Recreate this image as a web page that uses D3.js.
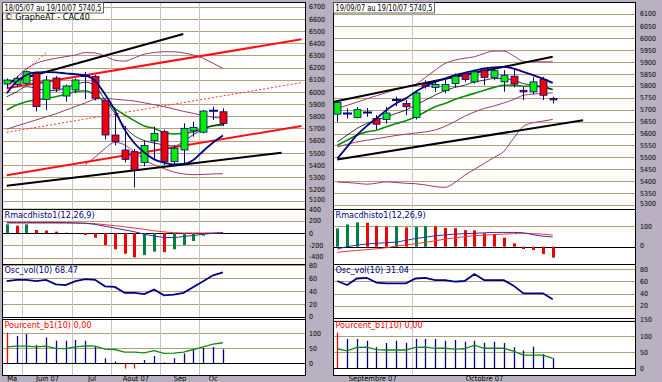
<!DOCTYPE html>
<html><head><meta charset="utf-8">
<script src="https://cdn.jsdelivr.net/npm/d3@7"></script>
<style>body{margin:0;background:#b9b1c1;overflow:hidden}svg{display:block}</style>
</head><body><svg id="c" width="662" height="382"></svg>
<script>
// ---------------- DATA ----------------
const weeksL = ["18/05","25/05","01/06","08/06","15/06","22/06","29/06","06/07","13/07","20/07","27/07","03/08","10/08","17/08","24/08","31/08","07/09","14/09","21/09","28/09","05/10","12/10","19/10"];
const openL  = [6065,6060,6071,6153,5939,6114,5966,6016,6130,6126,5928,5646,5523,5509,5421,5599,5673,5427,5523,5680,5669,5845,5837];
const highL  = [6110,6130,6175,6165,6130,6130,6060,6110,6165,6140,5940,5820,5720,5530,5600,5714,5690,5560,5742,5755,5850,5879,5865];
const lowL   = [6030,6040,6060,5840,5850,6000,5920,5990,5940,5930,5610,5560,5420,5216,5390,5441,5400,5390,5413,5632,5660,5769,5720];
const closeL = [6098,6110,6166,5879,6098,6024,6049,6098,6130,5948,5646,5591,5446,5359,5559,5659,5427,5537,5701,5709,5843,5845,5740.5];
const maNavyL  = [5988,6084,6139,6160,6163,6160,6152,6145,6135,6090,5980,5850,5690,5578,5502,5446,5419,5404,5408,5441,5515,5584,5642];
const maBlackL = [5960,6000,6043,6030,6012,6010,6035,6060,6080,6050,5934,5826,5714,5640,5600,5580,5565,5555,5590,5650,5690,5725,5735];
const maGreenL = [5851,5892,5920,5934,5948,5961,5980,6002,6010,5975,5920,5865,5810,5764,5720,5701,5666,5654,5660,5673,5701,5720,5726];
const bandUpL  = [6060,6120,6190,6235,6260,6276,6290,6303,6323,6320,6294,6261,6253,6280,6310,6323,6330,6330,6320,6303,6276,6235,6194];
const bandMidL = [5693,5720,5745,5770,5795,5820,5850,5880,5910,5940,5947,5940,5933,5925,5910,5895,5879,5860,5840,5824,5805,5792,5783];
const bandLoL  = [null,null,null,null,null,null,null,null,5405,5465,5535,5585,5565,5505,5445,5400,5370,5342,5326,5320,5322,5326,5328];
const trendL = [
  {kind:"black", pts:[[0,6076],[17.97,6476]]},
  {kind:"black", pts:[[0,5230],[27.97,5501]]},
  {kind:"red",   pts:[[0,6030],[30,6432]]},
  {kind:"red",   pts:[[0,5316],[30,5720]]},
  {kind:"dot",   pts:[[0,5668],[30,6076]]},
  {kind:"dot",   pts:[[0.17,6050],[4.07,6326]]}
];
const macdHistL = [140,119,140,49,40,22,5,-5,-32,-76,-194,-264,-335,-394,-356,-302,-310,-264,-194,-130,-43,-5,2];
const macdLineL = [172,172,172,172,172,170,168,165,158,140,110,80,50,20,-20,-50,-70,-76,-55,-40,-20,-5,5];
const macdSigL  = [160,160,160,160,160,160,160,158,157,150,135,118,100,80,60,35,18,5,0,0,0,2,5];
const oscL = [55,57,57,55,57,50,49,55,58,57,47,46,37,37,35,42,33,34,37,46,55,64,68.47];
const pctL = [102,91,98,61,86,75,75,78,75,56,17,6,-17,-17,11,24,3,17,33,44,52,54,47];
const priceTicksL = d3.range(5100, 6701, 100);
const macdTicksL = [400,200,0,-200,-400];
const oscTicks = [80,60,40,20,0];
const pctTicksL = [100,50,0];
const monthStartL = [2,7,11,16,20];
const monthNamesL = ["Ma","Juin 07","Jul","Aout 07","Sep","Oc"];

const daysR = ["19/09","20/09","21/09","24/09","25/09","26/09","27/09","28/09","01/10","02/10","03/10","04/10","05/10","08/10","09/10","10/10","11/10","12/10","15/10","16/10","17/10","18/10","19/10"];
const openR  = [5681,5684,5667,5688,5663,5659,5740,5726,5667,5809,5793,5779,5809,5849,5816,5863,5835,5816,5840,5781,5774,5826,5747];
const highR  = [5740,5705,5711,5707,5677,5711,5754,5740,5779,5823,5816,5830,5851,5858,5868,5872,5872,5865,5872,5795,5837,5837,5754];
const lowR   = [5649,5663,5663,5670,5617,5642,5714,5677,5659,5788,5774,5768,5793,5816,5809,5802,5823,5775,5793,5740,5765,5740,5726];
const closeR = [5730,5684,5700,5688,5639,5686,5740,5712,5770,5798,5805,5805,5840,5826,5858,5835,5863,5844,5807,5774,5816,5760,5740.5];
const maNavyR  = [5495,5544,5593,5631,5663,5698,5726,5747,5775,5798,5816,5830,5844,5854,5863,5872,5877,5879,5872,5858,5844,5830,5812];
const maBlackR = [5565,5593,5621,5642,5656,5670,5684,5698,5719,5740,5761,5779,5793,5802,5816,5823,5830,5830,5823,5809,5802,5795,5784];
const maGreenR = [5551,5572,5593,5607,5614,5628,5642,5653,5670,5691,5712,5726,5742,5756,5768,5781,5793,5802,5802,5798,5798,5795,5784];
const bandUpR  = [5705,5718,5731,5745,5758,5771,5784,5795,5805,5835,5865,5893,5907,5915,5921,5935,5945,5945,5925,5902,5900,5900,5900];
const bandMidR = [5544,5555,5565,5572,5578,5585,5592,5597,5602,5607,5615,5630,5650,5672,5690,5705,5715,5728,5742,5760,5765,5768,5770];
const bandLoR  = [5397,5395,5392,5388,5392,5398,5395,5392,5390,5385,5378,5375,5395,5425,5450,5475,5500,5525,5580,5630,5645,5652,5659];
const trendR = [
  {kind:"black", pts:[[-0.34,5733],[22,5921]]},
  {kind:"black", pts:[[0,5491],[25.1,5656]]}
];
const macdHistR = [87,106,116,114,98,95,98,92,95,98,97,89,88,79,78,64,61,43,16,-11,-16,-35,-52];
const macdLineR = [-11,0,7,13,16,19,22,30,39,45,52,56,60,62,64,66,68,68,68,66,57,50,46];
const macdSigR  = [-27,-22,-18,-14,-10,-5,3,8,14,21,28,36,42,48,52,55,58,60,62,64,62,60,55];
const oscR = [60.5,54,64.6,65.7,58,56.7,56.7,56.7,64.6,65.7,62,62,59.4,60.5,71.8,62,62,62,53,40.5,40.5,40.5,31.04];
const pctR = [110,91,91,85,65,78,85,79,91,91,91,85,88,82,85,79,82,78,65,55,67,44,31];
const priceTicksR = d3.range(5300, 6101, 50);
const macdTicksR = [100,0];
const oscTicksR = [80,60,40,20];
const pctTicksR = [150,100,50,0];
const monthStartR = [8];
const monthNamesR = ["Septembre 07","Octobre 07"];

// ---------------- DRAW ----------------
const FONT = "'Liberation Sans Narrow','Arial Narrow','DejaVu Sans Condensed','Liberation Sans',sans-serif";
const C = {navy:"#000080", green:"#00ee00", red:"#f00000", dgreen:"#008040", ma:"#0c8c0c",
           band:"#9a3a6a", grid:"#b2a07c", vgrid:"#c4c4cc"};
const svg = d3.select("#c");
const defs = svg.append("defs");
let clipN = 0;

function drawChart(o) {
  const g = svg.append("g");
  const n = o.open.length;
  const x = d3.scaleLinear().domain([0, n - 1]).range(o.xr);
  const P = {price:[2,208.5], macd:[208.5,264.3], osc:[264.3,o.sepA], pct:[o.sepB,375.5]};
  const clip = (name) => {
    const id = "cl" + (clipN++);
    defs.append("clipPath").attr("id", id).append("rect")
      .attr("x", o.x0).attr("y", P[name][0]).attr("width", o.x1 - o.x0).attr("height", P[name][1] - P[name][0]);
    return "url(#" + id + ")";
  };
  g.append("rect").attr("x", o.x0).attr("y", 2).attr("width", o.x1 - o.x0).attr("height", 373.5).attr("fill", "#fff");

  const hgrid = (scale, ticks, name) => {
    g.append("g").attr("clip-path", clip(name)).selectAll("line").data(ticks).join("line")
      .attr("x1", o.x0).attr("x2", o.x1)
      .attr("y1", d => Math.round(scale(d)) + 0.5).attr("y2", d => Math.round(scale(d)) + 0.5)
      .attr("stroke", C.grid).attr("stroke-width", 1);
  };
  hgrid(o.yP, o.priceTicks, "price");
  hgrid(o.yM, o.macdTicks, "macd");
  hgrid(o.yO, o.oscTicks, "osc");
  hgrid(o.yC, o.pctTicks, "pct");

  const vx = o.monthStart.map(i => Math.round(x(i - 0.4)) + 0.5);
  g.selectAll(".vg").data(vx).join("line").attr("x1", d => d).attr("x2", d => d)
    .attr("y1", 2).attr("y2", 375.5).attr("stroke", C.vgrid);

  [o.yM, o.yC].forEach(s => {
    g.append("line").attr("x1", o.x0).attr("x2", o.x1)
      .attr("y1", Math.round(s(0)) + 0.5).attr("y2", Math.round(s(0)) + 0.5).attr("stroke", "#000");
  });

  // ---- price panel
  const pg = g.append("g").attr("clip-path", clip("price"));
  const smooth = d3.line().defined(d => d != null).x((d, i) => x(i)).y(d => o.yP(d)).curve(d3.curveMonotoneX);
  [o.bandUp, o.bandMid, o.bandLo].forEach(d =>
    pg.append("path").attr("d", smooth(d)).attr("fill", "none").attr("stroke", C.band).attr("stroke-width", 1));
  o.trend.forEach(t => {
    const l = pg.append("line")
      .attr("x1", x(t.pts[0][0])).attr("y1", o.yP(t.pts[0][1]))
      .attr("x2", x(t.pts[1][0])).attr("y2", o.yP(t.pts[1][1]));
    if (t.kind === "black") l.attr("stroke", "#000").attr("stroke-width", 2);
    else if (t.kind === "red") l.attr("stroke", "#ff1010").attr("stroke-width", 2);
    else l.attr("stroke", "#ff3030").attr("stroke-width", 1).attr("stroke-dasharray", "2,2");
  });
  pg.append("path").attr("d", smooth(o.maGreen)).attr("fill", "none").attr("stroke", C.ma).attr("stroke-width", 1.6);
  pg.append("path").attr("d", smooth(o.maBlack)).attr("fill", "none").attr("stroke", "#000").attr("stroke-width", 0.8);

  const idx = d3.range(n);
  const cg = pg.append("g");
  cg.selectAll(".wick").data(idx).join("line")
    .attr("x1", i => Math.round(x(i)) + 0.5).attr("x2", i => Math.round(x(i)) + 0.5)
    .attr("y1", i => o.yP(o.high[i])).attr("y2", i => o.yP(o.low[i]))
    .attr("stroke", C.navy).attr("stroke-width", 1);
  cg.selectAll(".body").data(idx.filter(i => o.open[i] !== o.close[i])).join("rect")
    .attr("x", i => Math.round(x(i)) - 3)
    .attr("y", i => o.yP(Math.max(o.open[i], o.close[i])))
    .attr("width", 7)
    .attr("height", i => Math.max(1, o.yP(Math.min(o.open[i], o.close[i])) - o.yP(Math.max(o.open[i], o.close[i]))))
    .attr("fill", i => o.close[i] > o.open[i] ? C.green : C.red)
    .attr("stroke", C.navy).attr("stroke-width", 0.8);
  cg.selectAll(".doji").data(idx.filter(i => o.open[i] === o.close[i])).join("line")
    .attr("x1", i => Math.round(x(i)) - 4).attr("x2", i => Math.round(x(i)) + 5)
    .attr("y1", i => o.yP(o.close[i])).attr("y2", i => o.yP(o.close[i]))
    .attr("stroke", C.navy).attr("stroke-width", 2);
  pg.append("path").attr("d", smooth(o.maNavy)).attr("fill", "none").attr("stroke", C.navy).attr("stroke-width", 1.8);

  // ---- MACD panel
  const mg = g.append("g").attr("clip-path", clip("macd"));
  mg.selectAll("rect").data(o.macdHist).join("rect")
    .attr("x", (d, i) => Math.round(x(i)) - 1).attr("width", 3)
    .attr("y", d => o.yM(Math.max(0, d))).attr("height", d => Math.abs(o.yM(d) - o.yM(0)))
    .attr("fill", (d, i) => (i === 0 || d >= o.macdHist[i - 1]) ? C.dgreen : C.red);
  const lineM = d3.line().x((d, i) => x(i)).y(d => o.yM(d)).curve(d3.curveMonotoneX);
  mg.append("path").attr("d", lineM(o.macdSig)).attr("fill", "none").attr("stroke", "#ff3030").attr("stroke-width", 1);
  mg.append("path").attr("d", lineM(o.macdLine)).attr("fill", "none").attr("stroke", "#3030a0").attr("stroke-width", 1);

  // ---- Osc panel
  const og = g.append("g").attr("clip-path", clip("osc"));
  og.append("path").attr("d", d3.line().x((d, i) => x(i)).y(d => o.yO(d))(o.osc))
    .attr("fill", "none").attr("stroke", C.navy).attr("stroke-width", 1.8);

  // ---- Pourcent panel
  const qg = g.append("g").attr("clip-path", clip("pct"));
  qg.selectAll("line").data(o.pct).join("line")
    .attr("x1", (d, i) => Math.round(x(i)) + 0.5).attr("x2", (d, i) => Math.round(x(i)) + 0.5)
    .attr("y1", o.yC(0)).attr("y2", d => o.yC(d))
    .attr("stroke", d => (d > 100 || d < 0) ? "#ff0000" : C.navy).attr("stroke-width", 1.3);
  qg.append("path").attr("d", d3.line().x((d, i) => x(i)).y(d => o.yC(d))(o.osc))
    .attr("fill", "none").attr("stroke", C.ma).attr("stroke-width", 1.3);

  [208.5, 264.3, o.sepA, o.sepB].forEach(yv => g.append("line").attr("x1", o.x0).attr("x2", o.x1)
    .attr("y1", Math.round(yv) + 0.5).attr("y2", Math.round(yv) + 0.5).attr("stroke", "#000"));
  g.append("rect").attr("x", o.x0 + 0.5).attr("y", 2.5).attr("width", o.x1 - o.x0 - 1).attr("height", 373)
    .attr("fill", "none").attr("stroke", "#000");

  // axes (right side labels); edge labels nudged apart where panels meet
  const ax = (scale, ticks, nudgeFirst, nudgeLast) => {
    const a = g.append("g").attr("transform", `translate(${o.labelX},0)`)
      .call(d3.axisRight(scale).tickValues(ticks).tickSize(0).tickPadding(0).tickFormat(d => String(d)));
    a.select(".domain").remove();
    a.selectAll("text").attr("font-family", FONT).attr("font-size", 7).attr("fill", "#000");
    a.selectAll(".tick").filter(d => d === ticks[0]).select("text").attr("dy", `calc(0.32em + ${nudgeFirst}px)`);
    a.selectAll(".tick").filter(d => d === ticks[0]).attr("transform", function () {
      return `translate(0,${scale(ticks[0]) + nudgeFirst})`; });
    a.selectAll(".tick").filter(d => d === ticks[ticks.length - 1]).attr("transform", function () {
      return `translate(0,${scale(ticks[ticks.length - 1]) + nudgeLast})`; });
  };
  ax(o.yP, o.priceTicks, -1.5, 0);
  ax(o.yM, o.macdTicks, 1.2, -1.2);
  ax(o.yO, o.oscTicks, 1.2, 0);
  ax(o.yC, o.pctTicks, 0, 0);

  g.append("rect").attr("x", o.x0 + 0.5).attr("y", 2.5).attr("width", o.titleW).attr("height", 10.5)
    .attr("fill", "#fff").attr("stroke", "#404040").attr("stroke-width", 0.8);
  g.append("text").attr("x", o.x0 + 2.5).attr("y", 11).text(o.title)
    .attr("textLength", o.titleW - 4).attr("lengthAdjust", "spacingAndGlyphs")
    .attr("font-family", FONT).attr("font-size", 9).attr("fill", "#000");
  if (o.sub) g.append("text").attr("x", o.x0 + 2.5).attr("y", 20).text(o.sub)
    .attr("font-family", FONT).attr("font-size", 9).attr("fill", "#000");
  const lab = (t, yv, col) => g.append("text").attr("x", o.x0 + 2.5).attr("y", yv).text(t)
    .attr("font-family", FONT).attr("font-size", 9).attr("fill", col);
  lab(o.macdTitle, 217.5, C.navy);
  lab(o.oscTitle, 273, C.navy);
  lab(o.pctTitle, 328, "#ff0000");

  const bounds = [o.x0].concat(vx).concat([x(n - 1) + 4]);
  o.months.forEach((m, k) => {
    g.append("text").attr("x", (bounds[k] + bounds[k + 1]) / 2).attr("y", 380.5)
      .attr("text-anchor", "middle").text(m)
      .attr("font-family", FONT).attr("font-size", 7.5).attr("fill", "#000");
  });
}

drawChart({
  x0: 2, x1: 306, labelX: 309, xr: [6.7, 222.9], sepA: 317, sepB: 319,
  open: openL, high: highL, low: lowL, close: closeL,
  maNavy: maNavyL, maBlack: maBlackL, maGreen: maGreenL,
  bandUp: bandUpL, bandMid: bandMidL, bandLo: bandLoL, trend: trendL,
  yP: d3.scaleLinear().domain([5200, 6700]).range([189.3, 6.7]), priceTicks: priceTicksL,
  yM: d3.scaleLinear().domain([-400, 400]).range([257.7, 208.3]), macdTicks: macdTicksL,
  yO: d3.scaleLinear().domain([0, 80]).range([316.7, 265]), oscTicks: oscTicks,
  yC: d3.scaleLinear().domain([0, 100]).range([363.3, 333.3]), pctTicks: pctTicksL,
  macdHist: macdHistL, macdLine: macdLineL, macdSig: macdSigL, osc: oscL, pct: pctL,
  monthStart: monthStartL, months: monthNamesL,
  title: "18/05/07 au 19/10/07  5740,5", sub: "\u00a9 GrapheAT - CAC40", titleW: 101,
  macdTitle: "Rmacdhisto1(12,26,9)", oscTitle: "Osc_vol(10)  68.47", pctTitle: "Pourcent_b1(10)  0,00"
});
drawChart({
  x0: 333, x1: 636, labelX: 640, xr: [337.3, 552.7], sepA: 318.3, sepB: 320.7,
  open: openR, high: highR, low: lowR, close: closeR,
  maNavy: maNavyR, maBlack: maBlackR, maGreen: maGreenR,
  bandUp: bandUpR, bandMid: bandMidR, bandLo: bandLoR, trend: trendR,
  yP: d3.scaleLinear().domain([5350, 6100]).range([193.3, 14]), priceTicks: priceTicksR,
  yM: d3.scaleLinear().domain([0, 100]).range([246.7, 225.7]), macdTicks: macdTicksR,
  yO: d3.scaleLinear().domain([0, 80]).range([318.3, 269]), oscTicks: oscTicksR,
  yC: d3.scaleLinear().domain([0, 100]).range([368.3, 336]), pctTicks: pctTicksR,
  macdHist: macdHistR, macdLine: macdLineR, macdSig: macdSigR, osc: oscR, pct: pctR,
  monthStart: monthStartR, months: monthNamesR,
  title: "19/09/07 au 19/10/07  5740,5", sub: null, titleW: 101,
  macdTitle: "Rmacdhisto1(12,26,9)", oscTitle: "Osc_vol(10)  31.04", pctTitle: "Pourcent_b1(10)  0,00"
});
</script></body></html>
